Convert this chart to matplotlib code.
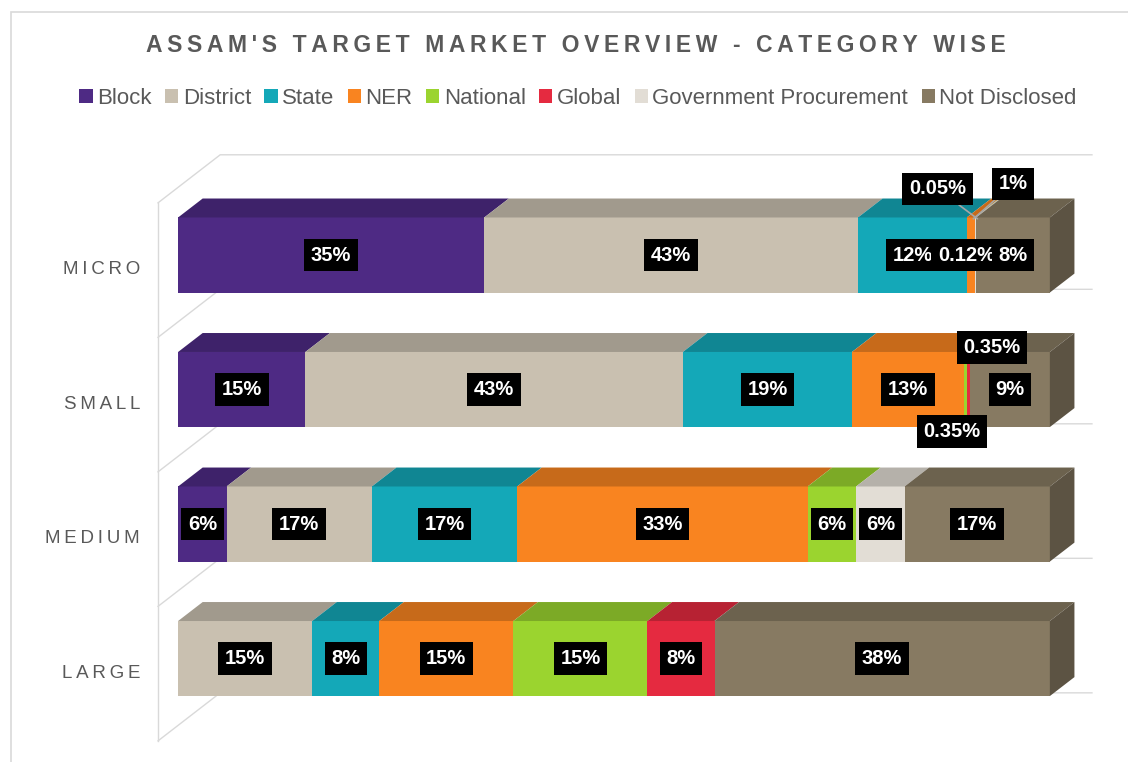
import matplotlib
matplotlib.use("Agg")
import matplotlib.pyplot as plt
from matplotlib.patches import Polygon, Patch, Rectangle
import matplotlib.colors as mcolors

# data (percent share of each target market, by enterprise size)
categories = ["MICRO", "SMALL", "MEDIUM", "LARGE"]
series = ["Block", "District", "State", "NER", "National", "Global",
          "Government Procurement", "Not Disclosed"]
block = [34.9, 14.6, 5.56, 0]
district = [42.6, 43.3, 16.67, 15.38]
state = [12.4, 19.4, 16.67, 7.69]
ner = [0.9, 12.8, 33.33, 15.38]
national = [0.05, 0.35, 5.56, 15.38]
global_ = [0, 0.35, 0, 7.69]
gov_proc = [0.12, 0, 5.56, 0]
not_disclosed = [8.4, 9.2, 16.67, 38.46]
values = [block, district, state, ner, national, global_, gov_proc, not_disclosed]

colors = ["#4E2A84", "#C9C0B0", "#14A8B8", "#F98420", "#9BD42F", "#E52A40",
          "#E2DDD5", "#877A62"]

# a few labels that were moved off the bar (offsets in pixels)
label_moves = {(0, 4): (-40, -30), (0, 3): (40, -35), (0, 6): (-9, 0),
               (1, 4): (-13, 42), (1, 5): (24, -42)}
leaders = {(0, 4), (0, 3)}

plt.rcParams["font.family"] = ["Liberation Sans", "DejaVu Sans"]

grey = "#595959"
W, H = 1128, 762
fig = plt.figure(figsize=(W / 100, H / 100), dpi=100)
ax = fig.add_axes([140 / W, 1 - 750 / H, 970 / W, 610 / H])
ax.set_xlim(-4.37, 106.9)
ax.set_ylim(3.68, -0.855)
ax.axis("off")

bar_h = 0.558
ddx, ddy = 2.82, 0.141          # depth of the bars
wf = (-2.3, 0.112)              # front plane of the walls
wb = (4.83, -0.245)             # back plane of the walls


def shade(c, f):
    r, g, b = mcolors.to_rgb(c)
    return (r * f, g * f, b * f)


# walls / gridlines
wall_c = "#D9D9D9"
for b in [-0.5, 0.5, 1.5, 2.5, 3.5]:
    ax.plot([wf[0], wb[0], 100 + wb[0]], [b + wf[1], b + wb[1], b + wb[1]],
            color=wall_c, lw=1, zorder=0)
ax.plot([wf[0], wf[0]], [-0.5 + wf[1], 3.5 + wf[1]], color=wall_c, lw=1, zorder=0)

px2pt = 0.72
for i, cat in enumerate(categories):
    total = sum(v[i] for v in values)
    left = 0.0
    segs = []
    for j, v in enumerate(values):
        w = v[i] / total * 100
        if w <= 0:
            continue
        ax.barh(i, w, left=left, height=bar_h, color=colors[j], zorder=2)
        top = i - bar_h / 2
        ax.add_patch(Polygon([(left, top), (left + w, top),
                              (left + w + ddx, top - ddy), (left + ddx, top - ddy)],
                             closed=True, fc=shade(colors[j], 0.8), ec="none", zorder=2))
        segs.append((j, left, w))
        left += w
    # right side of the last block
    j, l0, w = segs[-1]
    x1 = l0 + w
    ax.add_patch(Polygon([(x1, i + bar_h / 2), (x1, i - bar_h / 2),
                          (x1 + ddx, i - bar_h / 2 - ddy), (x1 + ddx, i + bar_h / 2 - ddy)],
                         closed=True, fc=shade(colors[j], 0.68), ec="none", zorder=2))
    # data labels
    for j, l0, w in segs:
        v = values[j][i]
        txt = f"{v:.0f}%" if v >= 0.5 else f"{v:.2f}%"
        dx, dy = label_moves.get((i, j), (0, 0))
        xy = (l0 + w / 2, i)
        kw = dict(xy=xy, xytext=(dx * px2pt, -dy * px2pt), textcoords="offset points",
                  ha="center", va="center", color="white", fontsize=14.5,
                  fontweight="bold", zorder=5,
                  bbox=dict(boxstyle="square,pad=0.33", fc="black", ec="none"))
        if (i, j) in leaders:
            kw["xy"] = (l0 + w / 2 + 0.3, i - bar_h / 2 + 0.01)
            kw["arrowprops"] = dict(arrowstyle="-", color="#A6A6A6", lw=1.2,
                                    shrinkA=0, shrinkB=0)
        ax.annotate(txt, **kw)
    # category label, letter spaced
    ax.text(-4.37, i + 0.11, "\u2009".join(cat), ha="right", va="center",
            fontsize=13.5, color=grey, zorder=3)

# title
title = "ASSAM'S TARGET MARKET OVERVIEW - CATEGORY WISE"
fig.text(576 / W, 1 - 46 / H, "\u2009".join(title), ha="center", va="center",
         fontsize=16.5, fontweight="bold", color=grey)

# legend
handles = [Patch(facecolor=c, edgecolor="none", label=s) for s, c in zip(series, colors)]
fig.legend(handles=handles, loc="center", bbox_to_anchor=(578 / W, 1 - 98 / H),
           ncol=8, frameon=False, handlelength=0.6, handleheight=0.6,
           handletextpad=0.2, columnspacing=0.6, borderaxespad=0,
           prop=dict(family="Liberation Sans", size=16), labelcolor=grey)

# chart border
fig.patches.append(Rectangle((11 / W, -0.1), 1.2, 1 - 12 / H + 0.1, transform=fig.transFigure,
                             fill=False, ec="#D9D9D9", lw=1.2))

fig.savefig("out.png", dpi=100)
